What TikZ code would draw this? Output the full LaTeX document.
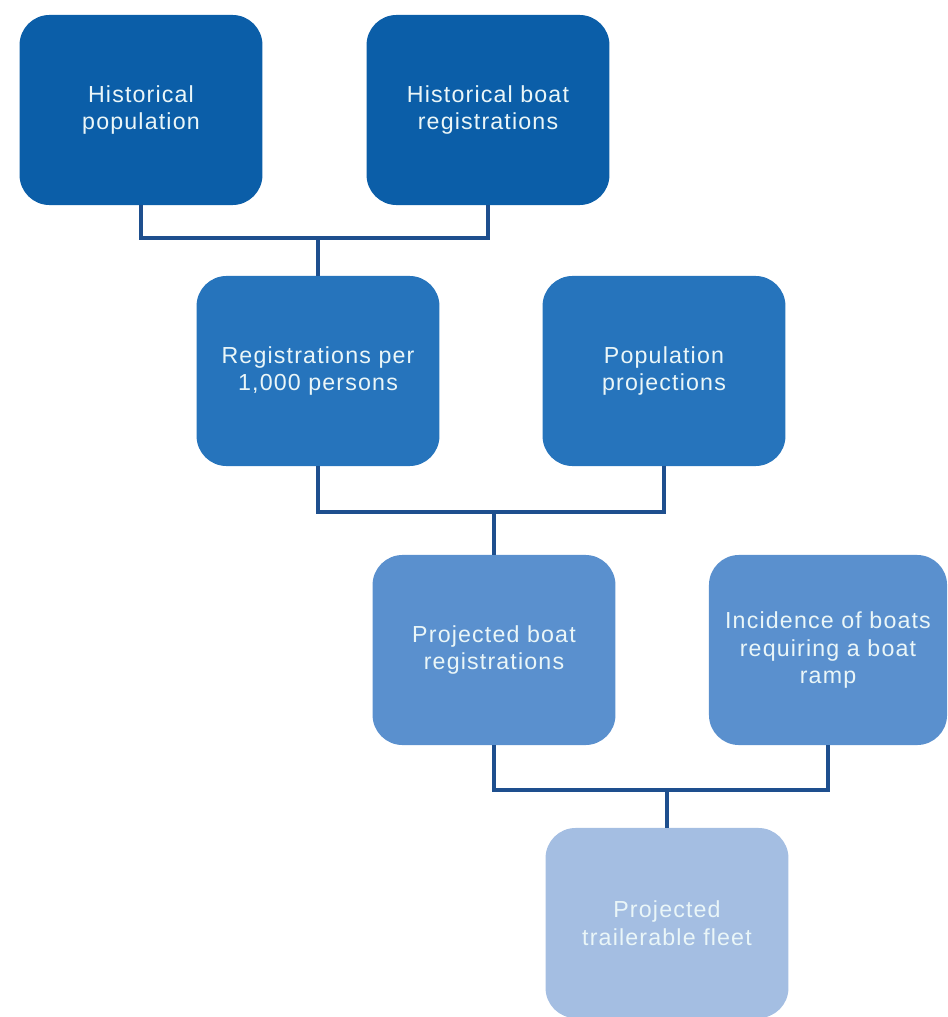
\documentclass[tikz,border=0pt]{standalone}
\usepackage{fontspec}
\setmainfont{Liberation Sans}[LetterSpace=5]
\usetikzlibrary{positioning}

\definecolor{tierA}{HTML}{0B5EA8}
\definecolor{tierB}{HTML}{2674BC}
\definecolor{tierC}{HTML}{5A90CE}
\definecolor{tierD}{HTML}{A4BEE2}
\definecolor{linkblue}{HTML}{1E4F8E}
\definecolor{labeltxt}{HTML}{EAF6F8}

\begin{document}
\begin{tikzpicture}[
x=0.025cm, y=-0.025cm,
box/.style={rounded corners=0.75cm, align=center, text=labeltxt, font=\fontsize{16.5}{19.5}\selectfont,
  minimum width=6.07cm, minimum height=4.75cm, inner sep=2pt},
link/.style={draw=linkblue, line width=2.7pt}
]
\useasboundingbox (0,0) rectangle (947,1017);

\node[box, fill=tierA] (hpop) at (141,110) {Historical\\population};
\node[box, fill=tierA] (hreg) at (488,110) {Historical boat\\registrations};
\node[box, fill=tierB] (rate) at (318,371) {Registrations per\\1,000 persons};
\node[box, fill=tierB] (pproj) at (664,371) {Population\\projections};
\node[box, fill=tierC] (preg) at (494,650) {Projected boat\\registrations};
\node[box, fill=tierC, minimum width=5.95cm] (ramp) at (828,650) {Incidence of boats\\requiring a boat\\ramp};
\node[box, fill=tierD] (fleet) at (667,923) {Projected\\trailerable fleet};

% junctions
\coordinate (j1) at (rate.north |- 0,238);
\coordinate (j2) at (preg.north |- 0,512);
\coordinate (j3) at (fleet.north |- 0,790);

\draw[link] (hpop.south) |- (j1) -| (hreg.south);
\draw[link] (j1) -- (rate.north);
\draw[link] (rate.south) |- (j2) -| (pproj.south);
\draw[link] (j2) -- (preg.north);
\draw[link] (preg.south) |- (j3) -| (ramp.south);
\draw[link] (j3) -- (fleet.north);
\end{tikzpicture}
\end{document}
